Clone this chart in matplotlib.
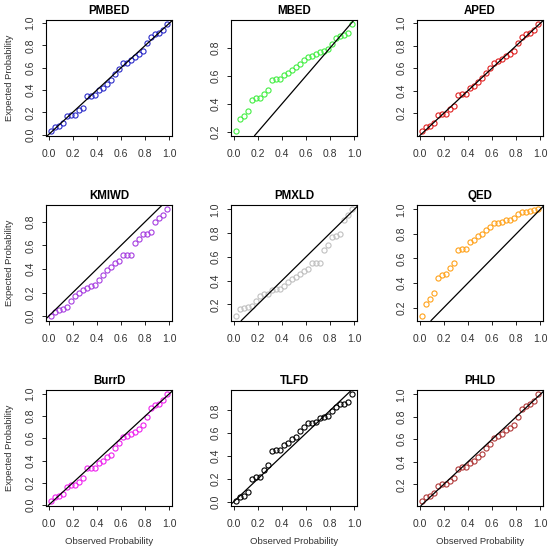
import matplotlib.pyplot as plt
from matplotlib.ticker import MultipleLocator, FormatStrFormatter

plt.rcParams['font.family'] = ['Liberation Sans', 'DejaVu Sans']

# observed probabilities (plotting positions), shared by every panel
observed = [0.017, 0.050, 0.083, 0.117, 0.150, 0.183, 0.217, 0.250, 0.283, 0.317,
            0.350, 0.383, 0.417, 0.450, 0.483, 0.517, 0.550, 0.583, 0.617, 0.650,
            0.683, 0.717, 0.750, 0.783, 0.817, 0.850, 0.883, 0.917, 0.950, 0.983]

# expected probabilities per model
pmbed = [0.03, 0.065, 0.075, 0.10, 0.165, 0.18, 0.18, 0.22, 0.24, 0.345,
         0.35, 0.355, 0.40, 0.42, 0.455, 0.49, 0.54, 0.59, 0.64, 0.645,
         0.67, 0.70, 0.72, 0.75, 0.82, 0.88, 0.90, 0.91, 0.94, 0.99]
mbed = [0.205, 0.29, 0.31, 0.35, 0.43, 0.44, 0.44, 0.47, 0.50, 0.57,
        0.575, 0.575, 0.605, 0.617, 0.64, 0.665, 0.683, 0.71, 0.735, 0.74,
        0.755, 0.77, 0.776, 0.79, 0.83, 0.867, 0.88, 0.893, 0.907, 0.967]
aped = [0.04, 0.075, 0.09, 0.115, 0.18, 0.19, 0.195, 0.235, 0.26, 0.36,
        0.37, 0.37, 0.42, 0.44, 0.475, 0.51, 0.56, 0.60, 0.65, 0.665,
        0.68, 0.71, 0.725, 0.755, 0.82, 0.88, 0.90, 0.91, 0.935, 0.99]
kmiwd = [0.0, 0.035, 0.05, 0.06, 0.08, 0.13, 0.175, 0.20, 0.22, 0.24,
         0.255, 0.26, 0.305, 0.345, 0.39, 0.42, 0.45, 0.47, 0.515, 0.515,
         0.52, 0.62, 0.65, 0.70, 0.695, 0.715, 0.80, 0.83, 0.855, 0.905]
pmxld = [0.10, 0.157, 0.17, 0.18, 0.19, 0.23, 0.27, 0.285, 0.29, 0.32,
         0.33, 0.325, 0.355, 0.385, 0.41, 0.43, 0.455, 0.48, 0.50, 0.545,
         0.545, 0.55, 0.66, 0.70, 0.77, 0.775, 0.79, 0.91, 0.95, 1.0]
qed = [0.13, 0.23, 0.27, 0.317, 0.44, 0.467, 0.47, 0.52, 0.56, 0.67,
       0.68, 0.68, 0.73, 0.75, 0.78, 0.80, 0.835, 0.855, 0.89, 0.89,
       0.895, 0.91, 0.915, 0.93, 0.965, 0.98, 0.98, 0.985, 0.995, 1.0]
burrd = [0.035, 0.07, 0.08, 0.10, 0.165, 0.18, 0.18, 0.21, 0.24, 0.33,
         0.335, 0.335, 0.38, 0.40, 0.43, 0.45, 0.51, 0.555, 0.61, 0.62,
         0.635, 0.66, 0.685, 0.72, 0.795, 0.87, 0.90, 0.91, 0.94, 0.995]
tlfd = [0.005, 0.04, 0.055, 0.09, 0.20, 0.22, 0.22, 0.28, 0.32, 0.44,
        0.45, 0.45, 0.50, 0.51, 0.55, 0.57, 0.62, 0.65, 0.69, 0.69,
        0.70, 0.73, 0.74, 0.75, 0.79, 0.83, 0.855, 0.855, 0.875, 0.94]
phld = [0.05, 0.09, 0.10, 0.125, 0.185, 0.20, 0.20, 0.23, 0.255, 0.34,
        0.355, 0.35, 0.39, 0.41, 0.44, 0.47, 0.52, 0.56, 0.61, 0.625,
        0.645, 0.68, 0.70, 0.73, 0.80, 0.87, 0.90, 0.91, 0.94, 1.0]

titles = ['PMBED', 'MBED', 'APED', 'KMIWD', 'PMXLD', 'QED', 'BurrD', 'TLFD', 'PHLD']
series = [pmbed, mbed, aped, kmiwd, pmxld, qed, burrd, tlfd, phld]
colors = ['#2b2bc8', '#44ee44', '#e02020', '#a63ee0', '#c0c0c0',
          '#ffa21a', '#ee22ee', '#000000', '#b03838']

W, H = 550, 553
fig = plt.figure(figsize=(W / 100, H / 100), dpi=100)

col_left = [46, 231, 417]
row_top = [20, 205, 390]
bw, bh = 126, 115.5

for k, (name, ys, c) in enumerate(zip(titles, series, colors)):
    r, cc = divmod(k, 3)
    ax = fig.add_axes([col_left[cc] / W, (H - row_top[r] - bh) / H, bw / W, bh / H])
    ax.plot(observed, ys, 'o', mfc='none', mec=c, ms=3.7, mew=0.8)
    ax.margins(0.04)
    # R-style limits come from the points only, so freeze them before the 45° line
    xl, yl = ax.get_xlim(), ax.get_ylim()
    ax.axline((0, 0), slope=1, color='black', lw=0.9)
    ax.set_xlim(xl)
    ax.set_ylim(yl)

    ax.xaxis.set_major_locator(MultipleLocator(0.2))
    ax.yaxis.set_major_locator(MultipleLocator(0.2))
    ax.xaxis.set_major_formatter(FormatStrFormatter('%.1f'))
    ax.yaxis.set_major_formatter(FormatStrFormatter('%.1f'))
    ax.tick_params(direction='out', length=3, width=0.7, labelsize=7.5,
                   color='#222222', labelcolor='#333333')
    ax.tick_params(axis='x', pad=6.5)
    ax.tick_params(axis='y', pad=4.5, labelrotation=90)
    for lab in ax.get_yticklabels():
        lab.set_va('center')
    for s in ax.spines.values():
        s.set_linewidth(0.8)

    ax.set_title(name, fontsize=8.3, fontweight='bold', pad=4.5)
    if cc == 0:
        ax.set_ylabel('Expected Probability', fontsize=6.8, color='#333333')
        ax.yaxis.set_label_coords(-0.25, 0.5)
    if r == 2:
        ax.set_xlabel('Observed Probability', fontsize=6.8, color='#333333')
        ax.xaxis.set_label_coords(0.5, -0.27)

fig.savefig('out.png', dpi=100)
